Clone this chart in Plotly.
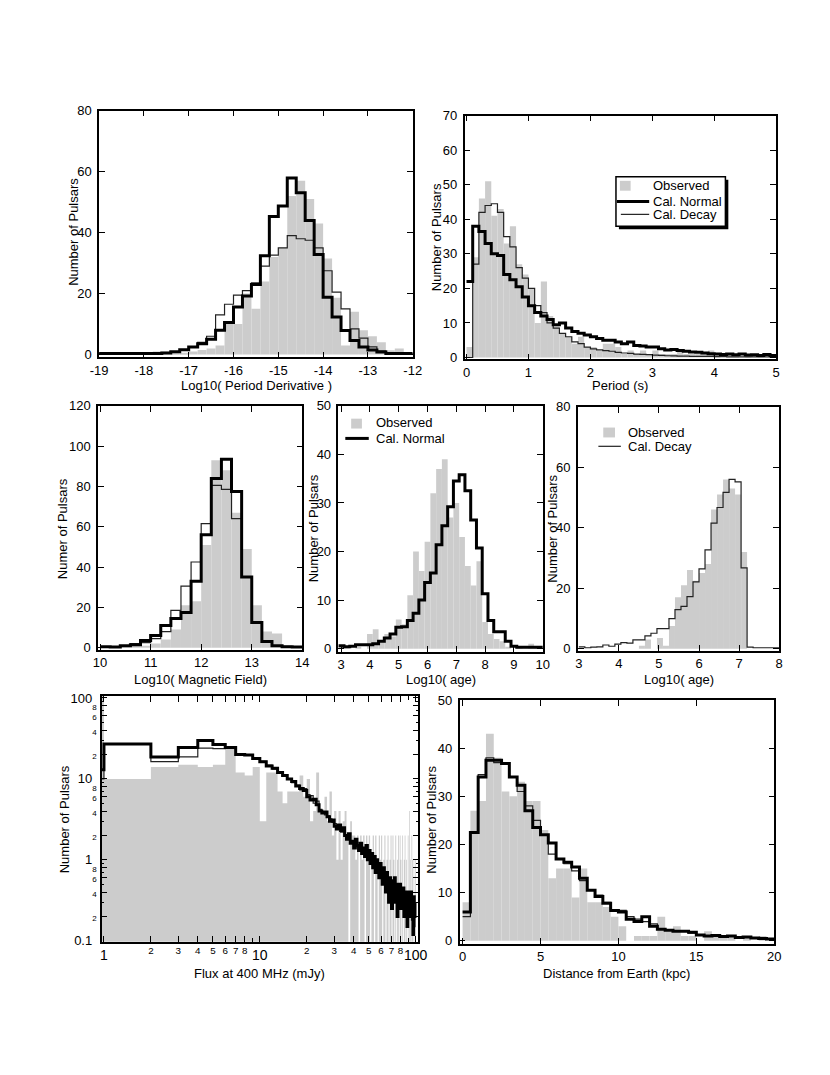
import numpy as np
import plotly.graph_objects as go

W, H = 830, 1075
FONT = "Liberation Sans, Arial, Helvetica, sans-serif"
GRAY = "#cccccc"
FLOOR = 0.01  # stand-in for empty bins on the log panel

# --- Log10( Period Derivative ), 0.2 wide bins from -19 to -12
pdot_edges = np.linspace(-19.0, -12.0, 36)
pdot_obs = [0, 0, 0, 0, 0, 0, 1, 1, 0.5, 0.5,
            1, 1.5, 2, 3, 11, 10, 20, 15, 24, 32,
            35, 52, 57, 51, 43, 31.5, 18.6, 3, 14, 8,
            6, 4, 1.4, 2, 0.5]
pdot_normal = [0.3, 0.3, 0.3, 0.3, 0.3, 0.3, 0.3, 0.5, 0.9, 1.6,
               2.5, 3.5, 5, 8, 10.5, 15.6, 19.2, 23, 32.4, 45.3,
               48.7, 57.9, 53.1, 44, 32.8, 18.8, 12.3, 7.9, 4.6, 2.5,
               1.5, 0.8, 0.3, 0.3, 0.3]
pdot_decay = [0.3, 0.3, 0.3, 0.3, 0.3, 0.3, 0.3, 0.5, 1.0, 1.5,
              2.5, 4, 6, 13, 16.5, 19.5, 21, 23.5, 29, 32.6,
              35, 39, 38, 37.5, 35, 27.5, 20.5, 15, 8.4, 5.4,
              2.5, 1.2, 0.5, 0.3, 0.3]

# --- Period (s), 0.1 wide bins from 0 to 5
period_edges = np.linspace(0.0, 5.0, 51)
period_obs = [3, 29, 46, 51, 41, 43, 33, 38, 27, 24,
              20, 10, 22, 12, 9, 7, 6, 4, 6, 3,
              3, 2, 4, 4, 3, 1, 2, 1, 2, 1,
              2, 1, 1, 1, 2, 1, 1, 1, 1, 2,
              1, 0, 1, 1, 0, 1, 0, 1, 0, 1]
period_normal = [22, 38, 36.5, 33, 30, 29.5, 24, 22.5, 20.5, 17.5,
                 15, 13, 12, 11, 9.5, 10, 8.5, 7.5, 7, 6.5,
                 6, 5.5, 5, 5, 4.5, 4, 4.5, 3.5, 3.3, 3,
                 3, 2.5, 2.2, 2.3, 2, 1.8, 1.6, 1.5, 1.3, 1.1,
                 1, 0.9, 1, 0.8, 1, 0.7, 0.8, 0.6, 0.9, 0.6]
period_decay = [0, 27, 42, 44, 44.5, 42, 35, 32, 26, 23,
                20, 15, 13, 10, 8.5, 7, 6, 4.5, 4, 3,
                2.5, 2.2, 2, 1.8, 1.5, 1.3, 1.2, 1, 0.9, 0.8,
                0.7, 0.6, 0.5, 0.45, 0.4, 0.4, 0.35, 0.3, 0.3, 0.3,
                0.25, 0.25, 0.2, 0.2, 0.2, 0.2, 0.15, 0.15, 0.15, 0.1]

# --- Log10( Magnetic Field ), 0.2 wide bins from 10 to 14
bfield_edges = np.linspace(10.0, 14.0, 21)
bfield_obs = [0, 0, 0.5, 1, 1, 2, 4, 9, 21, 23,
              51, 93, 88, 67, 49, 21, 8, 7, 1.3, 0]
bfield_normal = [0.5, 0.3, 1, 1.5, 3.5, 6, 11, 14.5, 17.5, 33,
                 56, 84, 93.5, 77.5, 35, 12.5, 3, 1, 0.5, 0.3]
bfield_decay = [0.3, 0.3, 0.8, 2, 2.5, 4.5, 8, 18.5, 30.5, 42.5,
                61.5, 80.5, 78.5, 64, 35, 12, 3, 1, 0.5, 0.3]

# --- Log10( age ), normal decay model, 0.2 wide bins centred on 3.0 ... 10.0
age_n_edges = np.linspace(2.9, 10.1, 37)
age_n_obs = [0.5, 0.3, 0, 0.3, 0, 3, 4, 1.5, 3, 2.5,
             6, 5, 11, 20, 16, 22, 32, 37, 39, 27,
             30, 23, 17, 13, 18, 5.5, 3, 2, 1.5, 0.3,
             0, 0.3, 0, 1, 0.5, 0]
age_n_model = [0.6, 0.4, 0.5, 0.8, 0.8, 0.8, 1.0, 1.5, 2.2, 3.0,
               4.4, 4.5, 5.8, 7.3, 10.0, 13.6, 15.6, 21.4, 25.3, 29.2,
               34.5, 35.8, 32.5, 26.5, 20.7, 11.3, 5.8, 3.5, 3.5, 1.5,
               0.5, 0.3, 0.3, 0.3, 0.3, 0.3]

# --- Log10( age ), field decay model, 0.15 wide bins from 3.0
age_d_edges = np.linspace(3.0, 8.1, 35)
age_d_obs = [0, 0, 0, 0, 0, 0, 0, 0, 0, 0,
             1, 3, 0, 3.5, 1, 7.5, 17, 21, 26, 22.5,
             25, 28, 46, 51, 56, 53, 51, 32, 0, 0,
             0, 0, 0, 0]
age_d_model = [0.6, 0.3, 0.5, 0.6, 1.2, 0.8, 1.5, 2.0, 1.8, 2.9,
               2.9, 4.2, 5.1, 6.6, 6.6, 9.9, 12.9, 14.0, 17.2, 22.1,
               26.4, 32.7, 41.5, 46.7, 51.7, 56.0, 55.2, 26.7, 0.5, 0.3,
               0.3, 0.3, 0.3, 0.3]

# --- Flux at 400 MHz (mJy), 1 mJy bins; the 0-1 bin starts off-axis (log scale)
flux_edges = [0.5] + list(range(1, 101))
flux_obs = [150, 10, 14, 15, 14, 15, 24, 12, 11, 14,
            3, 12, 12, 7, 5, 7, 7, 7, 11, 6,
            10, 3, 4, 12, 4, 4, 6, 3, 7, 2,
            4, 1, 4, 1, 3, 4, 2, 0, 3, 2,
            2, 1, 2, 0, 2, 1, 2, 0, 2, 1,
            2, 0, 1, 2, 0, 2, 1, 0, 2, 1,
            2, 0, 1, 2, 0, 1, 2, 0, 1, 2,
            0, 2, 1, 0, 2, 0, 1, 2, 0, 2,
            1, 0, 2, 0, 1, 2, 0, 1, 0, 2,
            0, 4, 1, 0, 2, 1, 0, 1, 0, 1]
flux_normal = [13, 27, 18.7, 24.4, 29.9, 26.7, 24.4, 20, 19.7, 17.9,
               16.3, 14.4, 13.5, 12, 11, 10, 9.3, 8.2, 7.6, 7.2,
               6.0, 5.5, 5.6, 4.8, 4.0, 3.8, 3.9, 3.4, 3.0, 3.1,
               2.6, 2.4, 2.7, 2.3, 2.5, 2.0, 1.8, 2.1, 1.6, 1.7,
               1.4, 1.8, 1.5, 1.3, 1.6, 1.2, 1.4, 1.1, 1.5, 1.0,
               1.3, 0.9, 1.2, 0.8, 1.1, 0.7, 1.0, 0.9, 0.6, 0.9,
               0.8, 0.5, 0.8, 0.6, 0.4, 0.7, 0.6, 0.3, 0.6, 0.5,
               0.25, 0.55, 0.4, 0.6, 0.3, 0.5, 0.2, 0.45, 0.35, 0.5,
               0.25, 0.4, 0.3, 0.45, 0.2, 0.4, 0.3, 0.35, 0.15, 0.4,
               0.3, 0.35, 0.2, 0.4, 0.25, 0.3, 0.12, 0.35, 0.2, 0.3]
flux_decay = [10, 27, 16.3, 18.7, 24, 23.7, 24.4, 20.5, 19.5, 18.2,
              16.5, 14.8, 13.2, 12.2, 11.3, 10.1, 9.0, 8.4, 7.3, 7.6,
              6.4, 6.2, 5.0, 5.3, 4.2, 3.9, 3.6, 3.5, 3.2, 2.9,
              2.8, 2.5, 2.5, 2.2, 2.2, 2.0, 1.9, 1.8, 1.7, 1.6,
              1.5, 1.6, 1.4, 1.4, 1.3, 1.3, 1.2, 1.2, 1.1, 1.1,
              1.0, 1.0, 0.95, 0.9, 0.9, 0.8, 0.85, 0.75, 0.7, 0.75,
              0.65, 0.7, 0.6, 0.6, 0.55, 0.6, 0.5, 0.55, 0.5, 0.45,
              0.5, 0.45, 0.4, 0.45, 0.35, 0.42, 0.3, 0.4, 0.33, 0.38,
              0.28, 0.36, 0.25, 0.34, 0.3, 0.32, 0.22, 0.3, 0.27, 0.3,
              0.2, 0.28, 0.25, 0.27, 0.18, 0.26, 0.22, 0.25, 0.15, 0.2]

# --- Distance from Earth (kpc), 0.5 wide bins from 0 to 20
dist_edges = np.linspace(0.0, 20.0, 41)
dist_obs = [8, 27, 29, 43, 38, 31, 30, 33, 29, 29,
            23, 13, 15, 15, 9, 15, 8, 8, 7, 5,
            3, 0, 1, 1, 1, 5, 2, 3, 1, 1,
            0, 2, 1, 1, 1, 0, 1, 0, 1, 0]
dist_normal = [6, 22.5, 34, 37.5, 37.5, 36.8, 34, 32.3, 27, 23.5,
               22, 20.3, 17, 16.3, 15.3, 13, 10.5, 9.2, 7.8, 6.3,
               6, 4.5, 4, 5, 3, 2.4, 2.2, 2.0, 2.0, 1.8,
               1.2, 1.0, 1.1, 0.9, 1.0, 0.7, 0.8, 0.6, 0.5, 0.4]
dist_decay = [5, 22.5, 34.5, 38, 37, 37, 34, 31, 28, 25,
              22, 18, 17, 16, 14.5, 12.5, 10.5, 9.5, 8, 6.5,
              6.3, 5, 4.5, 4, 3.5, 2.5, 2.3, 2.1, 2, 1.6,
              1.3, 1.1, 1, 0.9, 0.9, 0.8, 0.7, 0.6, 0.5, 0.4]


def px_x(x):
    return x / W


def px_y(y):
    return 1 - y / H


def axis_style(**kw):
    base = dict(showline=True, linecolor="black", linewidth=1.5, mirror="ticks",
                ticks="inside", ticklen=6, tickwidth=1.2, tickcolor="black",
                showgrid=False, zeroline=False, layer="above traces",
                tickfont=dict(family=FONT, size=13, color="black"))
    base.update(kw)
    return base


fig = go.Figure()
layout = {}


def axis_names(n):
    s = "" if n == 1 else str(n)
    return "x" + s, "y" + s, "xaxis" + s, "yaxis" + s


def add_bars(n, edges, vals):
    xa, ya, _, _ = axis_names(n)
    edges = np.asarray(edges)
    centers = (edges[:-1] + edges[1:]) / 2
    widths = edges[1:] - edges[:-1]
    fig.add_trace(go.Bar(x=centers, y=vals, width=widths, xaxis=xa, yaxis=ya,
                         marker=dict(color=GRAY, line=dict(width=0)),
                         showlegend=False, hoverinfo="skip"))


def add_step(n, edges, vals, width, color="black"):
    xa, ya, _, _ = axis_names(n)
    xs = list(edges)
    ys = list(vals) + [vals[-1]]
    fig.add_trace(go.Scatter(x=xs, y=ys, mode="lines", xaxis=xa, yaxis=ya,
                             line=dict(shape="hv", width=width, color=color),
                             showlegend=False, hoverinfo="skip"))


def panel(n, xpx, ypx, xrange, yrange, xkw, ykw):
    xa, ya, xk, yk = axis_names(n)
    ykw = dict(ykw)
    ykw.setdefault("ticklabelstandoff", 3)
    layout[xk] = axis_style(domain=[px_x(xpx[0]), px_x(xpx[1])], range=xrange,
                            anchor=ya, tickangle=0, **xkw)
    layout[yk] = axis_style(domain=[px_y(ypx[1]), px_y(ypx[0])], range=yrange,
                            anchor=xa, **ykw)


THICK, THIN = 3.0, 1.2
THIN_COLOR = "#222222"

# panel 1: period derivative
add_bars(1, pdot_edges, pdot_obs)
add_step(1, pdot_edges, pdot_decay, THIN, THIN_COLOR)
add_step(1, pdot_edges, pdot_normal, THICK)
pdot_ticks = list(range(-19, -11))
panel(1, (84, 405), (97, 347), [-19, -12], [-0.97, 80],
      dict(tickvals=pdot_ticks, ticktext=[str(t) for t in pdot_ticks]),
      dict(tickvals=[0, 20, 40, 60, 80]))

# panel 2: period
add_bars(2, period_edges, period_obs)
add_step(2, period_edges, period_decay, THIN, THIN_COLOR)
add_step(2, period_edges, period_normal, THICK)
panel(2, (458, 777), (102, 349), [-0.032, 5], [-0.57, 70],
      dict(dtick=1, tick0=0), dict(dtick=10, tick0=0))

# panel 3: magnetic field
add_bars(3, bfield_edges, bfield_obs)
add_step(3, bfield_edges, bfield_decay, THIN, THIN_COLOR)
add_step(3, bfield_edges, bfield_normal, THICK)
panel(3, (83, 292), (396, 643), [9.961, 14], [-0.98, 120],
      dict(dtick=1, tick0=10), dict(dtick=20, tick0=0))

# panel 4: age, normal model
add_bars(4, age_n_edges, age_n_obs)
add_step(4, age_n_edges, age_n_model, THICK)
panel(4, (329, 538), (396, 645), [2.908, 10], [-0.61, 50],
      dict(dtick=1, tick0=3), dict(dtick=10, tick0=0))

# panel 5: age, decay model
add_bars(5, age_d_edges, age_d_obs)
add_step(5, age_d_edges, age_d_model, THIN, THIN_COLOR)
panel(5, (574, 780), (397, 644), [2.976, 8], [-0.65, 80],
      dict(dtick=1, tick0=3), dict(dtick=20, tick0=0))

# panel 6: flux, log-log; observed drawn as a filled step outline
gx, gy = [flux_edges[0]], [FLOOR]
for lo, hi, v in zip(flux_edges[:-1], flux_edges[1:], flux_obs):
    v = v if v > 0 else FLOOR
    gx += [lo, hi]
    gy += [v, v]
gx.append(flux_edges[-1])
gy.append(FLOOR)
fig.add_trace(go.Scatter(x=gx, y=gy, mode="lines", fill="toself", fillcolor=GRAY,
                         line=dict(width=0, color=GRAY), xaxis="x6", yaxis="y6",
                         showlegend=False, hoverinfo="skip"))
add_step(6, flux_edges, flux_decay, THIN, THIN_COLOR)
add_step(6, flux_edges, flux_normal, THICK)

PAD = '<span style="font-size:8px">\u00a0\u00a0</span>'


def small_y(d):
    return '<span style="font-size:8px">%d</span>' % d


fx_vals, fx_text = [], []
for dec in (1, 10):
    for d in range(1, 9):
        fx_vals.append(d * dec)
        fx_text.append(str(d * dec) if d == 1 else "<sup>%d</sup>" % d)
fx_vals.append(100)
fx_text.append("100")

fy_vals, fy_text = [], []
for dec in (0.1, 1, 10):
    for d in (1, 2, 4, 6, 8):
        fy_vals.append(d * dec)
        fy_text.append(("%g" % (d * dec)) + PAD if d == 1 else small_y(d))
fy_vals.append(100)
fy_text.append("100" + PAD)

minor_x = [9, 90]
minor_y = [d * dec for dec in (0.1, 1, 10) for d in (3, 5, 7, 9)]
panel(6, (87, 410), (690, 939), [-0.0125, 2.0125], [-1.012, 2.024],
      dict(type="log", tickvals=fx_vals, ticktext=fx_text,
           tickfont=dict(family=FONT, size=14, color="black"),
           minor=dict(tickvals=minor_x, ticks="inside", ticklen=4, tickcolor="black")),
      dict(type="log", tickvals=fy_vals, ticktext=fy_text, ticklen=5,
           ticklabelstandoff=1,
           tickfont=dict(family=FONT, size=13, color="black"),
           minor=dict(tickvals=minor_y, ticks="inside", ticklen=2, tickcolor="black")))

# panel 7: distance
add_bars(7, dist_edges, dist_obs)
add_step(7, dist_edges, dist_decay, THIN, THIN_COLOR)
add_step(7, dist_edges, dist_normal, THICK)
panel(7, (453, 775), (694, 941), [-0.19, 20], [-0.61, 50],
      dict(dtick=5, tick0=0), dict(dtick=10, tick0=0))

# axis titles
annotations = []


def label(text, x, y, size=13, angle=0, xanchor="center"):
    annotations.append(dict(text=text, x=px_x(x), y=px_y(y), xref="paper", yref="paper",
                            showarrow=False, textangle=angle, xanchor=xanchor,
                            yanchor="middle", font=dict(family=FONT, size=size, color="black")))


label("Log10( Period Derivative )", 245, 375)
label("Number of Pulsars", 57, 220, angle=-90)
label("Period (s)", 617, 375)
label("Number of Pulsars", 429, 225, angle=-90)
label("Log10( Magnetic Field)", 188, 673)
label("Numer of Pulsars", 46, 520, angle=-90)
label("Log10( age)", 434, 673)
label("Number of Pulsars", 303, 520, angle=-90)
label("Log10( age)", 677, 673)
label("Number of Pulsars", 548, 520, angle=-90)
label("Flux at 400 MHz (mJy)", 248, 971)
label("Number of Pulsars", 48, 815, angle=-90)
label("Distance from Earth (kpc)", 614, 971)
label("Number of Pulsars", 424, 815, angle=-90)

# legends
shapes = []


def rect(x0, y0, x1, y1, fill, line_w=0):
    shapes.append(dict(type="rect", xref="paper", yref="paper",
                       x0=px_x(x0), x1=px_x(x1), y0=px_y(y0), y1=px_y(y1),
                       fillcolor=fill, line=dict(width=line_w, color="black")))


def hline(x0, x1, y, width, color="black"):
    shapes.append(dict(type="line", xref="paper", yref="paper",
                       x0=px_x(x0), x1=px_x(x1), y0=px_y(y), y1=px_y(y),
                       line=dict(width=width, color=color)))


# boxed legend in the period panel, with drop shadow
rect(616, 167, 728, 217, "black")
rect(613, 164, 725, 214, "white", 1.5)
rect(617, 168, 628, 178, GRAY)
hline(614, 647, 189, THICK)
hline(618, 647, 202, THIN, THIN_COLOR)
label("Observed", 649, 173, size=13, xanchor="left")
label("Cal. Normal", 649, 189, size=13, xanchor="left")
label("Cal. Decay", 649, 202, size=13, xanchor="left")

# legend, normal age panel
rect(342, 409, 353, 419, GRAY)
hline(336, 360, 429, THICK)
label("Observed", 365, 413, xanchor="left")
label("Cal. Normal", 365, 429, xanchor="left")

# legend, decay age panel
rect(600, 418, 612, 428, GRAY)
hline(595, 618, 437, THIN, THIN_COLOR)
label("Observed", 623, 423, xanchor="left")
label("Cal. Decay", 623, 437, xanchor="left")

layout.update(dict(width=W, height=H, margin=dict(l=0, r=0, t=0, b=0),
                   paper_bgcolor="white", plot_bgcolor="white",
                   barmode="overlay", showlegend=False,
                   font=dict(family=FONT, size=13, color="black"),
                   annotations=annotations, shapes=shapes))
fig.update_layout(**layout)

fig.write_html("out.html")
